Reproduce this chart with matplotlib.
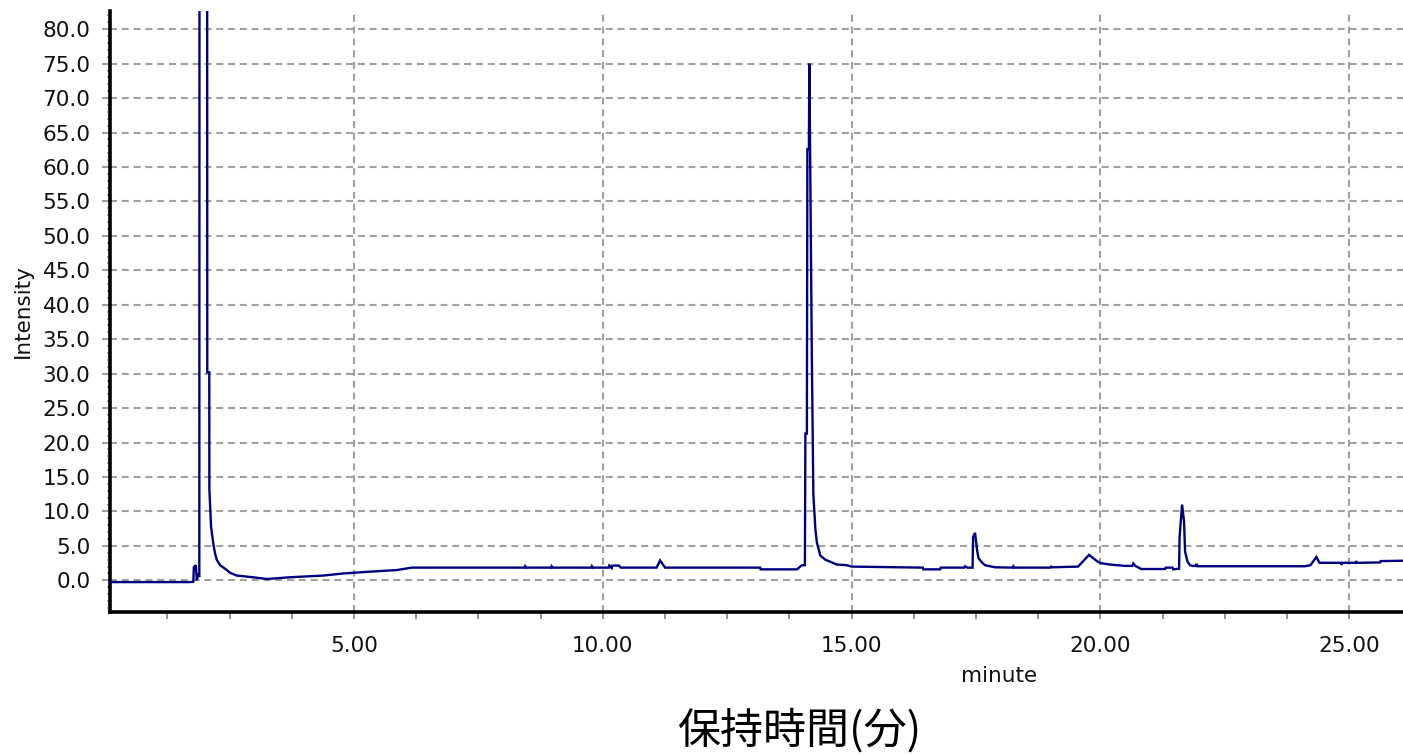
import matplotlib
matplotlib.use("Agg")
import matplotlib.pyplot as plt
from matplotlib.ticker import MultipleLocator, FormatStrFormatter

# ---- data (time in minutes, intensity) ----
time_min = [0.10, 1.70, 1.77, 1.78, 1.82, 1.84, 1.86, 1.89,
            1.97,            # apex of first peak (off-scale, clipped)
            2.05, 2.09, 2.092, 2.126, 2.172, 2.206, 2.240, 2.307, 2.407, 2.508,
            2.642, 2.97, 3.25, 3.71, 4.38, 4.78, 5.18, 5.86, 6.16,
            8.43, 8.44, 8.46, 8.96, 8.97, 8.99, 9.77, 9.78, 9.80,
            10.12, 10.13, 10.18, 10.19, 10.32, 10.33, 10.36,
            11.08, 11.15, 11.25, 13.16, 13.17, 13.90, 14.00, 14.06,
            14.07, 14.10, 14.11, 14.14, 14.15, 14.20, 14.23, 14.27, 14.30,
            14.33, 14.37, 14.47, 14.57, 14.70, 14.90, 15.00,
            16.43, 16.44, 16.78, 16.79, 17.26, 17.28, 17.32, 17.43, 17.44,
            17.48, 17.52, 17.55, 17.62, 17.68, 17.88,
            18.24, 18.25, 18.27, 18.99, 19.01, 19.03, 19.55, 19.77, 19.93,
            20.00, 20.19, 20.50, 20.64, 20.66, 20.70, 20.82, 21.30, 21.31,
            21.45, 21.46, 21.58, 21.59, 21.64, 21.68, 21.70, 21.75, 21.80,
            21.85, 21.92, 21.93, 21.95, 24.11, 24.22, 24.34, 24.40, 24.83,
            24.84, 24.86, 25.12, 25.14, 25.16, 25.62, 25.63, 26.08]
intensity = [-0.25, -0.25, -0.2, 1.9, 2.2, 0.0, 1.0, 0.5,
             2000.0,
             30.2, 30.2, 13.3, 7.8, 5.3, 3.9, 3.0, 2.2, 1.7, 1.1,
             0.7, 0.45, 0.2, 0.45, 0.7, 1.0, 1.2, 1.5, 1.85,
             1.85, 2.05, 1.85, 1.85, 2.05, 1.85, 1.85, 2.05, 1.85,
             1.85, 2.15, 1.8, 2.15, 2.15, 2.1, 1.85,
             1.85, 2.9, 1.85, 1.85, 1.6, 1.6, 2.2, 2.2,
             21.3, 21.3, 62.6, 62.6, 75.0, 32.1, 12.5, 7.5, 5.5,
             4.7, 3.6, 3.0, 2.7, 2.3, 2.2, 2.0,
             1.85, 1.6, 1.6, 1.85, 1.85, 2.05, 1.85, 1.85, 6.3,
             6.9, 4.4, 3.2, 2.6, 2.2, 1.9,
             1.85, 2.05, 1.85, 1.85, 2.0, 1.9, 2.0, 3.7, 2.8,
             2.5, 2.3, 2.1, 2.1, 2.45, 2.1, 1.65, 1.65, 1.85,
             1.85, 1.6, 1.7, 6.3, 11.0, 8.5, 4.2, 2.7, 2.2,
             2.1, 2.1, 2.4, 2.05, 2.05, 2.2, 3.4, 2.55, 2.55,
             2.25, 2.55, 2.55, 2.7, 2.55, 2.6, 2.8, 2.85]

x_major = [5, 10, 15, 20, 25]
y_major = [0, 5, 10, 15, 20, 25, 30, 35, 40, 45, 50, 55, 60, 65, 70, 75, 80]

plt.rcParams['lines.scale_dashes'] = False

W, H = 1403, 754
fig = plt.figure(figsize=(W / 100, H / 100), dpi=100)
ax = fig.add_axes([110 / W, 1 - 612 / H, (W - 110) / W, (612 - 11) / H])

ax.plot(time_min, intensity, color='#000080', lw=1.7, solid_joinstyle='miter', zorder=3)

ax.set_xlim(0.095, 26.08)
ax.set_ylim(-4.59, 82.64)

ax.xaxis.set_major_locator(plt.FixedLocator(x_major))
ax.xaxis.set_minor_locator(MultipleLocator(1.25))
ax.yaxis.set_major_locator(plt.FixedLocator(y_major))
ax.yaxis.set_minor_locator(MultipleLocator(1))
ax.xaxis.set_major_formatter(FormatStrFormatter('%.2f'))
ax.yaxis.set_major_formatter(FormatStrFormatter('%.1f'))

ax.grid(True, which='major', color='#a0a0a0', lw=1.5, linestyle=(0, (5, 3.5)), zorder=1)

for s in ['top', 'right']:
    ax.spines[s].set_visible(False)
for s in ['left', 'bottom']:
    ax.spines[s].set_linewidth(2.6)
    ax.spines[s].set_color('black')

ax.tick_params(axis='x', which='both', direction='out', length=5, width=1.2,
               color='#808080', labelsize=15.5, pad=12, labelcolor='#111111')
ax.tick_params(axis='y', which='major', direction='out', length=6, width=1.5,
               color='#a0a0a0', labelsize=15.5, pad=8, labelcolor='#111111')
ax.tick_params(axis='y', which='minor', direction='out', length=2.5, width=1.2,
               color='#a0a0a0')

fig.text(23 / W, 1 - 311 / H, 'Intensity', rotation=90, ha='center', va='center',
         fontsize=15.5, color='#111111')
fig.text(999 / W, 1 - 676 / H, 'minute', ha='center', va='center',
         fontsize=15.5, color='#111111')
fig.text(799 / W, 1 - 731 / H, '保持時間(分)', ha='center', va='center',
         fontsize=31, color='black', family=['Noto Sans CJK JP', 'DejaVu Sans'])

fig.savefig('out.png', dpi=100)
